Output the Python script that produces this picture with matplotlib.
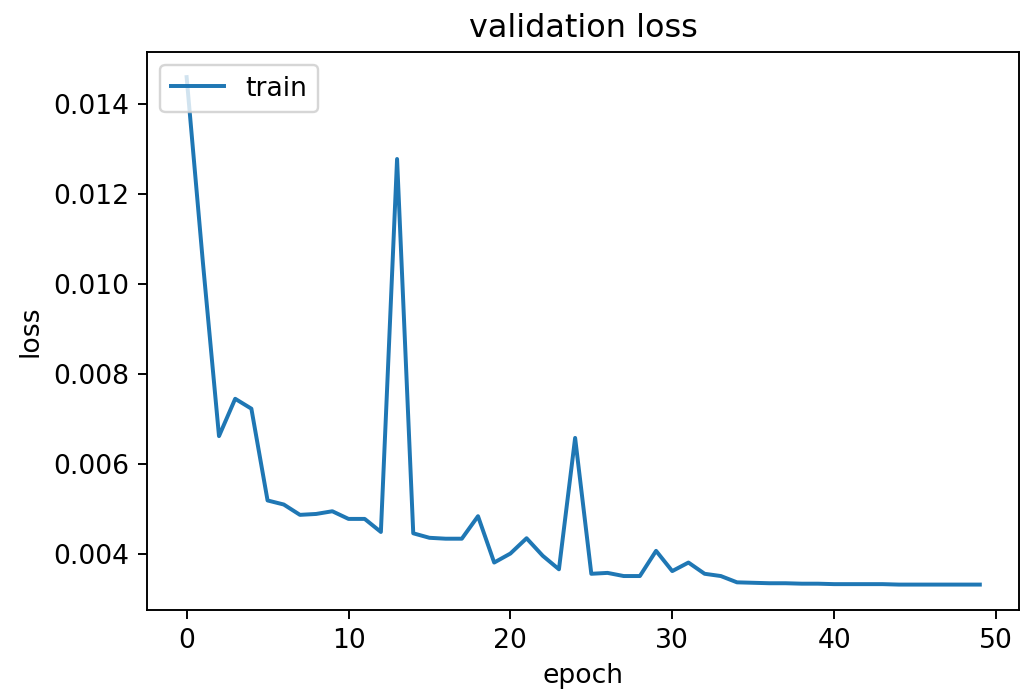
import matplotlib
matplotlib.use("Agg")
import matplotlib.pyplot as plt

# valores (pérdida de validación por época)
epochs = list(range(50))
val_loss = [
    0.01460, 0.01050, 0.00662, 0.00745, 0.00723, 0.00519, 0.00510, 0.00487, 0.00489, 0.00495,
    0.00478, 0.00478, 0.00449, 0.01278, 0.00446, 0.00436, 0.00434, 0.00434, 0.00484, 0.00381,
    0.00401, 0.00435, 0.00396, 0.00366, 0.00658, 0.00356, 0.00358, 0.00351, 0.00351, 0.00407,
    0.00362, 0.00381, 0.00356, 0.00351, 0.00337, 0.00336, 0.00335, 0.00335, 0.00334, 0.00334,
    0.00333, 0.00333, 0.00333, 0.00333, 0.00332, 0.00332, 0.00332, 0.00332, 0.00332, 0.00332,
]

# la imagen original viene escalada, así que agrando un poco el texto
plt.rcParams["font.size"] = 11.1
plt.rcParams["lines.linewidth"] = 1.65
plt.rcParams["xtick.major.size"] = 3.9
plt.rcParams["ytick.major.size"] = 3.9

fig = plt.figure(figsize=(6, 4), dpi=172.5)
plt.plot(epochs, val_loss)
plt.title("validation loss")
plt.ylabel("loss")
plt.xlabel("epoch")
plt.legend(["train"], loc="upper left")
plt.subplots_adjust(left=0.142, right=0.985, bottom=0.116, top=0.925)
plt.savefig("out.png", dpi=172.5)
